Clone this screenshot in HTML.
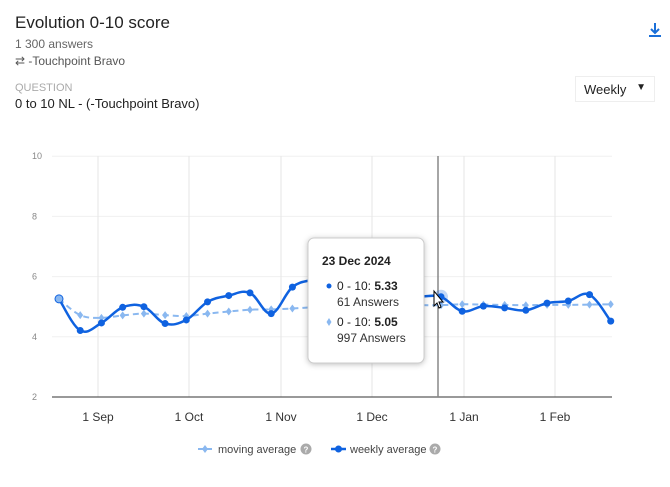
<!DOCTYPE html>
<html><head><meta charset="utf-8"><style>
body{margin:0;width:670px;height:487px;background:#fff;font-family:"Liberation Sans",sans-serif;position:relative;overflow:hidden}
.t{position:absolute;white-space:nowrap}
</style></head><body>
<div class="t" style="left:15px;top:13px;font-size:17px;color:#222">Evolution 0-10 score</div>
<div class="t" style="left:15px;top:37px;font-size:12px;color:#666">1 300 answers</div>
<div class="t" style="left:15px;top:54px;font-size:12px;color:#555">⇄ -Touchpoint Bravo</div>
<div class="t" style="left:15px;top:82px;font-size:11px;color:#aaa">QUESTION</div>
<div class="t" style="left:15px;top:96px;font-size:13px;color:#222">0 to 10 NL - (-Touchpoint Bravo)</div>
<div class="t" style="left:575px;top:76px;width:80px;height:26px;border:1px solid #eee;box-sizing:border-box;font-size:13px;color:#222;padding:5px 0 0 8px">Weekly<span style="position:absolute;right:8px;top:5px;font-size:10px">▼</span></div>
<svg class="t" style="left:648px;top:22px" width="14" height="16"><path d="M7 1v10M3 7l4 4 4-4M1 14h12" stroke="#1a6fd8" stroke-width="2" fill="none"/></svg>
<svg id="c" width="670" height="487" style="position:absolute;left:0;top:0"></svg>
<script>
var W=[5.26,4.21,4.46,4.98,5.0,4.44,4.56,5.16,5.37,5.46,4.77,5.65,5.9,6.0,5.9,5.7,5.5,5.35,5.33,4.85,5.02,4.96,4.88,5.12,5.19,5.4,4.52];
var M=[5.26,4.72,4.63,4.71,4.77,4.72,4.69,4.77,4.84,4.9,4.91,4.94,4.98,5.0,5.02,5.03,5.04,5.05,5.05,5.08,5.07,5.06,5.05,5.06,5.06,5.07,5.08];
function X(i){return 59+i*21.22}function Y(v){return 397-(v-2)*30.1}
var s='';
[2,4,6,8,10].forEach(function(v){var y=Y(v);if(v>2)s+='<line x1="52" x2="612" y1="'+y+'" y2="'+y+'" stroke="#f0f0f0"/>';s+='<text x="32" y="'+(y+3)+'" font-size="9" fill="#888">'+v+'</text>';});
[[98,'1 Sep'],[189,'1 Oct'],[281,'1 Nov'],[372,'1 Dec'],[464,'1 Jan'],[555,'1 Feb']].forEach(function(a){s+='<line x1="'+a[0]+'" x2="'+a[0]+'" y1="156" y2="397" stroke="#e6e6e6"/><text x="'+a[0]+'" y="421" font-size="12" fill="#333" text-anchor="middle">'+a[1]+'</text>';});
s+='<line x1="52" x2="612" y1="397" y2="397" stroke="#333"/>';
s+='<line x1="438" x2="438" y1="156" y2="397" stroke="#888" stroke-width="1.5"/>';
function path(a){var P=a.map(function(v,i){return[X(i),Y(v)]});var p='M'+P[0][0]+' '+P[0][1];
for(var i=0;i<P.length-1;i++){var p0=P[Math.max(i-1,0)],p1=P[i],p2=P[i+1],p3=P[Math.min(i+2,P.length-1)];var k=0.18;
p+='C'+(p1[0]+(p2[0]-p0[0])*k).toFixed(1)+' '+(p1[1]+(p2[1]-p0[1])*k).toFixed(1)+' '+(p2[0]-(p3[0]-p1[0])*k).toFixed(1)+' '+(p2[1]-(p3[1]-p1[1])*k).toFixed(1)+' '+p2[0].toFixed(1)+' '+p2[1].toFixed(1);}return p}
s+='<path d="'+path(M)+'" stroke="#8ab8f0" stroke-width="2" stroke-dasharray="6 4" fill="none"/>';
M.forEach(function(v,i){var x=X(i),y=Y(v);s+='<path d="M'+x+' '+(y-4)+'L'+(x+3)+' '+y+'L'+x+' '+(y+4)+'L'+(x-3)+' '+y+'Z" fill="#8ab8f0"/>'});
s+='<path d="'+path(W)+'" stroke="#0f62e0" stroke-width="2.5" fill="none" stroke-linejoin="round"/>';
W.forEach(function(v,i){s+='<circle cx="'+X(i)+'" cy="'+Y(v)+'" r="3.5" fill="#0f62e0"/>'});
s+='<circle cx="'+X(18)+'" cy="'+Y(5.33)+'" r="7" fill="#0f62e0" fill-opacity="0.25"/>';
s+='<circle cx="'+X(0)+'" cy="'+Y(5.26)+'" r="4" fill="#8ab8f0" stroke="#0f62e0"/>';
s+='<rect x="308" y="238" width="116" height="125" rx="6" fill="#fff" stroke="#ccc" style="filter:drop-shadow(0 1px 3px rgba(0,0,0,.25))"/>';
s+='<text x="322" y="265" font-size="12" font-weight="bold" fill="#222">23 Dec 2024</text>';
s+='<circle cx="329" cy="286" r="2.5" fill="#0f62e0"/><text x="337" y="290" font-size="12" fill="#222">0 - 10: <tspan font-weight="bold">5.33</tspan></text><text x="337" y="306" font-size="12" fill="#333">61 Answers</text>';
s+='<path d="M329 318l2.5 4-2.5 4-2.5-4z" fill="#8ab8f0"/><text x="337" y="326" font-size="12" fill="#222">0 - 10: <tspan font-weight="bold">5.05</tspan></text><text x="337" y="342" font-size="12" fill="#333">997 Answers</text>';
s+='<path d="M434 291v15l3-3 2 5 2-1-2-5h4z" fill="#fff" stroke="#000"/>';
s+='<line x1="198" x2="212" y1="449" y2="449" stroke="#8ab8f0" stroke-width="2"/><path d="M205 445l3 4-3 4-3-4z" fill="#8ab8f0"/><text x="218" y="453" font-size="11" fill="#444">moving average</text><circle cx="306" cy="449" r="5.5" fill="#aaa"/><text x="306" y="452.5" font-size="8" fill="#fff" text-anchor="middle" font-weight="bold">?</text>';
s+='<line x1="331" x2="346" y1="449" y2="449" stroke="#0f62e0" stroke-width="2.5"/><circle cx="338.5" cy="449" r="3.5" fill="#0f62e0"/><text x="350" y="453" font-size="11" fill="#444">weekly average</text><circle cx="435" cy="449" r="5.5" fill="#aaa"/><text x="435" y="452.5" font-size="8" fill="#fff" text-anchor="middle" font-weight="bold">?</text>';
document.getElementById('c').innerHTML=s;
</script>
</body></html>
